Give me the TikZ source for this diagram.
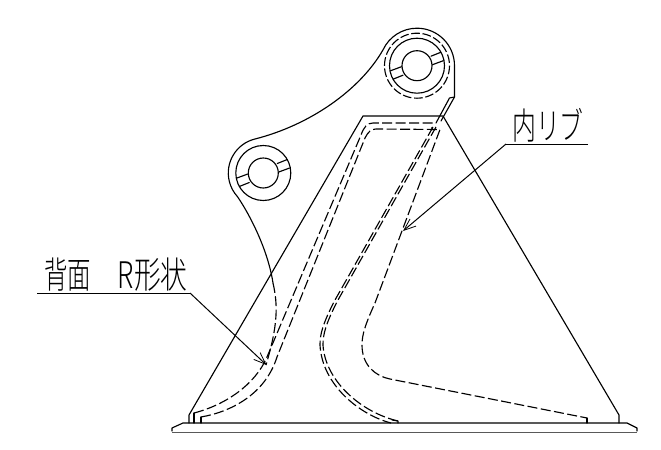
\documentclass[tikz,border=0pt]{standalone}
\usepackage{fontspec}
\newfontfamily\cjk{Noto Sans CJK JP Light}
\usetikzlibrary{arrows.meta,calc}
\tikzset{
  line/.style={line width=0.85pt,black,line cap=round,line join=round},
  hid/.style={line width=0.85pt,black,dash pattern=on 7.5pt off 2.6pt},
  leader/.style={line width=0.75pt,black},
  barb/.style={-{Straight Barb[length=9pt,width=7pt,line width=0.6pt]}},
  lab/.style={inner sep=0pt,anchor=base west,font=\cjk\fontsize{27.5}{27.5}\selectfont}
}
\newcommand{\lugpair}[1]{%
  \draw[line] (#1) circle (15) (#1) circle (27.5);
  \draw[line] ($(#1)+(14,-9.5)$) -- ($(#1)+(24,-13.5)$)
              ($(#1)+(15.5,-1)$) -- ($(#1)+(26.3,-5)$)
              ($(#1)+(-14,9.5)$) -- ($(#1)+(-24,13.5)$)
              ($(#1)+(-15.5,1)$) -- ($(#1)+(-26.3,5)$);}
\begin{document}
\begin{tikzpicture}[x=0.75pt,y=-0.75pt]
\useasboundingbox (0,0) rectangle (661,450);
\coordinate (top) at (417,65.7);
\coordinate (low) at (263.3,173);
% bosses
\lugpair{top}
\lugpair{low}
\draw[hid,dash pattern=on 6.5pt off 2pt] (top) circle (32.5);
% outline
\draw[line] (441,121) -- (454.5,97) -- (454.5,65.7)
  arc[start angle=0,end angle=-155,radius=37.5]
  .. controls (360,90) and (310,125) .. (255,139)
  arc[start angle=-103.7,end angle=-222.4,radius=35]
  .. controls (250,215) and (268,250) .. (273,283) coordinate (outEnd);
\draw[hid] (outEnd) .. controls (278,305) and (278,325) .. (266,365);
\draw[line] (449.5,98) -- (436,123) (449.5,98) -- (454.5,97);
% triangle
\draw[line] (189,423) -- (189,415) -- (363,116) -- (443,116) -- (619,415) -- (619,423);
% base plate
\draw[line] (172,431) -- (172,428) -- (183,423) -- (627,423) -- (637,428) -- (637,431);
\draw[line width=1.3pt,black!65] (172,432.5) -- (637,432.5);
% hidden lines
\draw[line] (194,423) -- (194,413);
\draw[hid] (194,413) .. controls (225,405) and (255,385) .. (267,357) -- (361,135)
  .. controls (364,127) and (367,123) .. (373,123) -- (432,123) -- (432,130);
\draw[line] (201,423) -- (201,417);
\draw[hid] (201,417) .. controls (230,412) and (265,395) .. (277,357) -- (365,138)
  .. controls (368,132) and (371,129) .. (376,129) -- (440,129.5) -- (375,303)
  .. controls (365,325) and (362,335) .. (362,345)
  .. controls (362,365) and (375,376) .. (390,379) -- (587,418);
\draw[line] (587,418) -- (587,423);
\draw[hid] (433,127) -- (335,300) .. controls (322,325) and (320,335) .. (320,345)
  .. controls (322,385) and (360,415) .. (391,423);
\draw[hid] (436,127) -- (338,300) .. controls (325,325) and (323,335) .. (323,345)
  .. controls (325,380) and (360,412) .. (398,421);
\draw[line] (392,420) -- (398,421) -- (398,423);
% labels and leaders
\node[lab] (back) at (44,288) {\scalebox{0.64}[1]{背面}\hspace{20pt}\scalebox{0.73}[1]{R形状}};
\node[lab] (rib) at (512,139) {\scalebox{0.65}[1]{内リブ}};
\coordinate (backL) at (37,293);
\coordinate (backK) at (190,293);
\coordinate (backT) at (266.5,365);
\coordinate (ribR) at (588,144);
\coordinate (ribK) at (506,144);
\coordinate (ribT) at (403,231);
\draw[leader] (backL) -- (backK);
\draw[leader,barb] (backK) -- (backT);
\draw[leader] (ribR) -- (ribK);
\draw[leader,barb] (ribK) -- (ribT);
\end{tikzpicture}
\end{document}
